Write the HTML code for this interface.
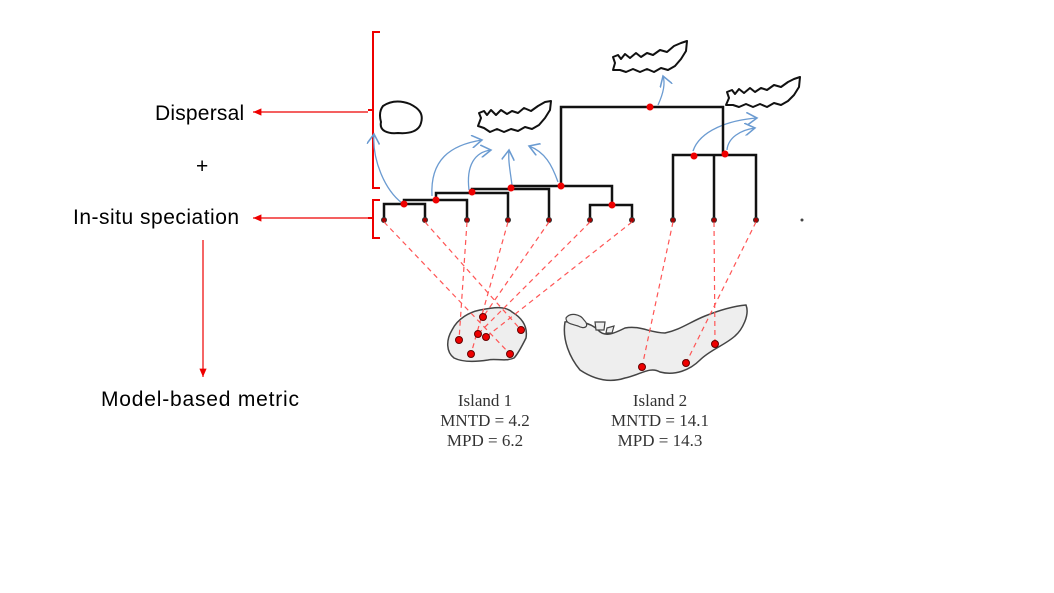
<!DOCTYPE html>
<html><head><meta charset="utf-8"><style>
body{margin:0;width:1054px;height:593px;background:#fff;overflow:hidden;position:relative;font-family:"Liberation Sans",sans-serif}
.l{position:absolute;font-size:21px;color:#000;white-space:nowrap}
</style></head><body>
<div class="l" style="left:155px;top:102px;letter-spacing:0.2px">Dispersal</div>
<div class="l" style="left:196px;top:155px">+</div>
<div class="l" style="left:73px;top:206px;letter-spacing:0.5px">In-situ speciation</div>
<div class="l" style="left:101px;top:388px;letter-spacing:0.8px">Model-based metric</div>
<svg width="1054" height="593" style="position:absolute;left:0;top:0">
<defs>
<marker id="ra" markerWidth="8" markerHeight="8" refX="7" refY="4" orient="auto"><path d="M0,1 L7,4 L0,7" fill="#e00"/></marker>
<marker id="ba" markerWidth="10" markerHeight="10" refX="8" refY="5" orient="auto"><path d="M0,0 L8,5 L0,10" fill="none" stroke="#6b9bd1" stroke-width="1.2"/></marker>
</defs>
<g stroke="#e00" stroke-width="2" fill="none">
<path d="M380,32 H373 V188 H380 M373,110 H368"/>
<path d="M380,200 H373 V238 H380 M373,218 H368"/>
</g>
<g stroke="#e00" stroke-width="1.2" marker-end="url(#ra)">
<line x1="368" y1="112" x2="253" y2="112"/>
<line x1="368" y1="218" x2="253" y2="218"/>
<line x1="203" y1="240" x2="203" y2="377"/>
</g>
<g fill="none" stroke="#111" stroke-width="2" stroke-linejoin="round">
<path d="M383,106 C392,100 402,101 410,104 C418,108 424,113 421,123 C419,131 410,134 398,133 C388,134 379,131 381,122 C379,115 380,110 383,106Z"/>
<path d="M481,118 L479,113 L484,111 L487,115 L491,110 L496,115 L501,110 L507,114 L512,111 L518,113 L524,108 L531,111 L538,106 L545,102 L551,101 L550,110 L545,118 L539,125 L532,129 L525,127 L518,131 L511,129 L504,132 L497,129 L490,132 L484,128 L478,126 Z"/>
<path d="M615,63 L613,57 L618,55 L621,59 L625,54 L630,58 L636,53 L641,57 L647,53 L653,55 L660,50 L667,52 L674,46 L681,43 L687,41 L686,51 L681,59 L675,66 L668,70 L661,68 L654,72 L647,69 L640,72 L633,69 L626,72 L620,70 L613,70 Z"/>
<path d="M729,98 L727,92 L732,90 L735,94 L739,89 L744,93 L750,88 L755,92 L761,88 L767,90 L774,85 L781,87 L788,82 L794,79 L800,77 L799,87 L794,95 L788,101 L781,105 L774,103 L767,107 L760,104 L753,107 L746,104 L739,107 L733,105 L726,105 Z"/>
</g>
<g fill="none" stroke="#6b9bd1" stroke-width="1.3" marker-end="url(#ba)">
<path d="M402,203 C385,190 372,160 374,134"/>
<path d="M432,196 C430,160 450,145 482,140"/>
<path d="M469,190 C466,165 475,152 491,150"/>
<path d="M512,185 C510,170 508,160 509,150"/>
<path d="M558,182 C552,165 545,152 529,146"/>
<path d="M658,105 C664,92 665,82 663,76"/>
<path d="M693,151 C700,130 730,120 757,118"/>
<path d="M727,150 C728,138 740,130 755,128"/>
</g>
<g stroke="#111" stroke-width="2.5" fill="none">
<path d="M384,220 V204 H425 V220"/>
<path d="M404,204 V200 H467 V220"/>
<path d="M436,200 V193 H508 V220"/>
<path d="M472,193 V189 H549 V220"/>
<path d="M511,189 V186 H612 V205"/>
<path d="M590,220 V205 H632 V220"/>
<path d="M561,186 V107 H723 V154"/>
<path d="M673,220 V155 H756 V220"/>
<path d="M714,220 V155"/>
</g>
<g fill="#e00">
<circle cx="404" cy="204" r="3.5"/><circle cx="436" cy="200" r="3.5"/><circle cx="472" cy="192" r="3.5"/><circle cx="511" cy="188" r="3.5"/><circle cx="561" cy="186" r="3.5"/><circle cx="612" cy="205" r="3.5"/><circle cx="650" cy="107" r="3.5"/><circle cx="694" cy="156" r="3.5"/><circle cx="725" cy="154" r="3.5"/>
</g>
<g fill="#a00" stroke="#333" stroke-width="1">
<circle cx="384" cy="220" r="2.5"/><circle cx="425" cy="220" r="2.5"/><circle cx="467" cy="220" r="2.5"/><circle cx="508" cy="220" r="2.5"/><circle cx="549" cy="220" r="2.5"/><circle cx="590" cy="220" r="2.5"/><circle cx="632" cy="220" r="2.5"/><circle cx="673" cy="220" r="2.5"/><circle cx="714" cy="220" r="2.5"/><circle cx="756" cy="220" r="2.5"/>
</g>
<circle cx="802" cy="220" r="1.5" fill="#444"/>
<path d="M452,330 C458,318 470,312 480,310 C495,307 505,306 512,312 C522,318 528,326 526,338 C522,346 518,354 514,358 C505,362 495,358 488,360 C475,362 462,362 454,358 C446,352 446,340 452,330Z" fill="#eee" stroke="#444" stroke-width="1.5"/>
<path d="M565,322 C575,320 590,322 598,330 C605,338 615,333 625,328 C640,325 650,333 665,333 C680,330 690,322 705,316 C720,310 735,306 746,305 C750,315 742,330 735,336 C725,345 710,350 700,360 C690,370 675,376 660,372 C650,366 640,375 625,378 C610,383 595,380 580,370 C570,358 562,340 565,322Z" fill="#eee" stroke="#444" stroke-width="1.5"/>
<path d="M566,318 C570,312 580,314 584,320 C590,326 585,330 578,326 C572,324 566,324 566,318Z" fill="#eee" stroke="#444" stroke-width="1.2"/>
<path d="M595,322 L605,322 L604,330 L596,330Z M607,328 L614,326 L612,333 L606,333Z" fill="#eee" stroke="#444" stroke-width="1.2"/>
<g stroke="#f55" stroke-width="1.2" stroke-dasharray="5,4">
<line x1="384" y1="222" x2="510" y2="354"/>
<line x1="425" y1="222" x2="521" y2="330"/>
<line x1="467" y1="222" x2="459" y2="340"/>
<line x1="508" y1="222" x2="471" y2="354"/>
<line x1="549" y1="222" x2="483" y2="317"/>
<line x1="590" y1="222" x2="478" y2="334"/>
<line x1="632" y1="222" x2="486" y2="337"/>
<line x1="673" y1="222" x2="642" y2="367"/>
<line x1="714" y1="222" x2="715" y2="344"/>
<line x1="756" y1="222" x2="686" y2="363"/>
</g>
<g fill="#e00" stroke="#600" stroke-width="1">
<circle cx="459" cy="340" r="3.5"/><circle cx="483" cy="317" r="3.5"/><circle cx="478" cy="334" r="3.5"/><circle cx="486" cy="337" r="3.5"/><circle cx="471" cy="354" r="3.5"/><circle cx="521" cy="330" r="3.5"/><circle cx="510" cy="354" r="3.5"/>
<circle cx="642" cy="367" r="3.5"/><circle cx="686" cy="363" r="3.5"/><circle cx="715" cy="344" r="3.5"/>
</g>
<g font-family="Liberation Serif,serif" font-size="17" fill="#333" text-anchor="middle">
<text x="485" y="406">Island 1</text><text x="485" y="426">MNTD = 4.2</text><text x="485" y="446">MPD = 6.2</text>
<text x="660" y="406">Island 2</text><text x="660" y="426">MNTD = 14.1</text><text x="660" y="446">MPD = 14.3</text>
</g>
</svg>
</body></html>
